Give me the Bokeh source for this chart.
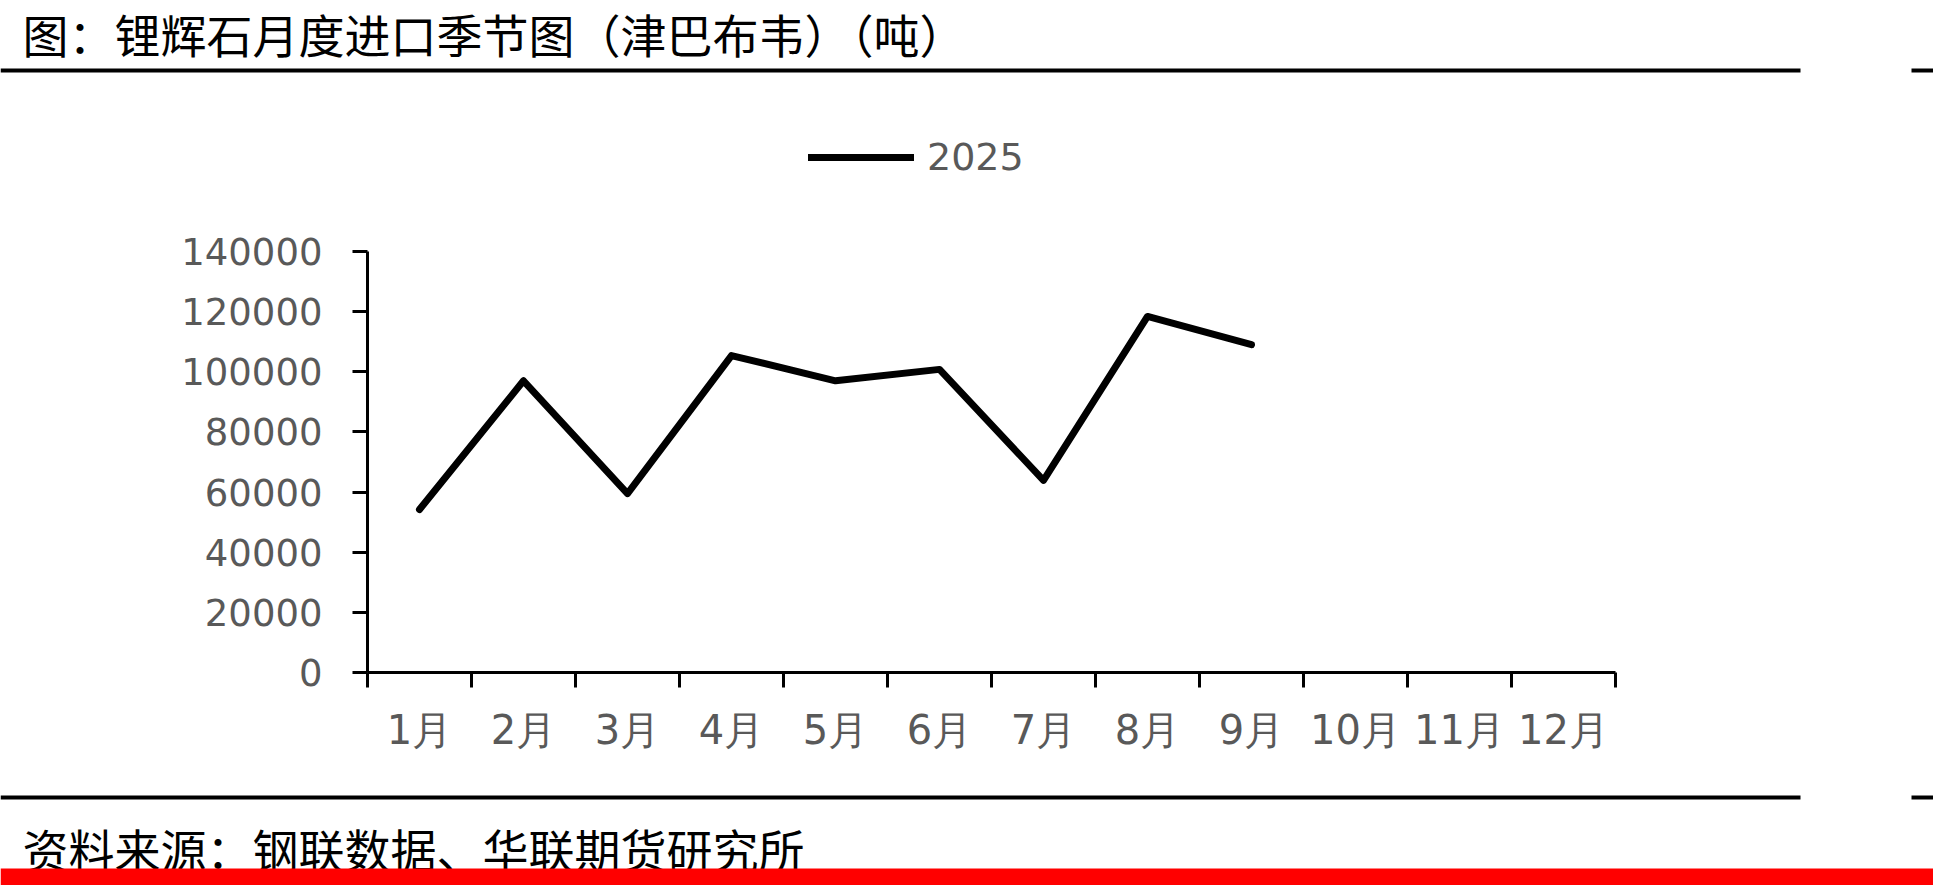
from bokeh.plotting import figure
from bokeh.models import (Range1d, LinearAxis, FixedTicker, Label, BoxAnnotation,
                          Legend, LegendItem, ColumnDataSource, NumeralTickFormatter)
from bokeh.embed import file_html
from bokeh.resources import INLINE

# ---- data ----
title_text = "图：锂辉石月度进口季节图（津巴布韦）（吨）"
source_text = "资料来源：钢联数据、华联期货研究所"
months = ["1月", "2月", "3月", "4月", "5月", "6月", "7月", "8月", "9月", "10月", "11月", "12月"]
series_name = "2025"
values_2025 = [54200, 97000, 59500, 105400, 97000, 100800, 63900, 118400, 109000]
y_ticks = [0, 20000, 40000, 60000, 80000, 100000, 120000, 140000]

W, H = 1933, 885
FL, FR, FB = 367, 1615, 672     # plot frame left/right/bottom (canvas px)
Y_TOP_PX = 251                  # canvas y of the top tick (140000)
FRAME_TOP = 110                 # frame extended upward so the legend sits inside it
Y_MAX = y_ticks[-1]
Y_END = Y_MAX * (FB - FRAME_TOP) / (FB - Y_TOP_PX)
ABS = {"position": "absolute", "top": "0px", "left": "0px"}

# ---- background page layer: title, rules, source, red band (pixel coordinates) ----
bg = figure(width=W, height=H, output_backend="svg", toolbar_location=None,
            x_range=Range1d(0, W), y_range=Range1d(H, 0),
            min_border=0, x_axis_type=None, y_axis_type=None)
bg.outline_line_color = None
bg.xgrid.visible = False
bg.ygrid.visible = False
bg.background_fill_color = "white"
bg.border_fill_color = "white"
bg.styles = ABS


def band(x0, x1, y0, y1, color):
    return BoxAnnotation(left=x0, right=x1, top=y0, bottom=y1,
                         fill_color=color, fill_alpha=1.0, line_color=None)


bg.add_layout(Label(x=22, y=32, text=title_text, text_font="Noto Sans CJK SC",
                    text_font_size="46px", text_color="black",
                    text_baseline="middle", text_align="left"))
bg.add_layout(band(0, 1800, 68, 72, "black"))
bg.add_layout(band(1911, W, 68, 72, "black"))
bg.add_layout(band(0, 1800, 795, 799, "black"))
bg.add_layout(band(1911, W, 795, 799, "black"))
bg.add_layout(Label(x=22, y=847, text=source_text, text_font="Noto Sans CJK SC",
                    text_font_size="46px", text_color="black",
                    text_baseline="middle", text_align="left"))
bg.add_layout(band(0, W, 868, H, "#FF0000"))

# ---- chart layer ----
p = figure(width=W, height=H, output_backend="svg", toolbar_location=None,
           x_range=Range1d(0, len(months)), y_range=Range1d(0, Y_END),
           min_border_left=FL, min_border_right=W - FR,
           min_border_top=FRAME_TOP, min_border_bottom=H - FB,
           x_axis_type=None, y_axis_type=None)
p.outline_line_color = None
p.background_fill_alpha = 0
p.border_fill_alpha = 0
p.xgrid.visible = False
p.ygrid.visible = False
p.styles = ABS

yax = LinearAxis(ticker=FixedTicker(ticks=y_ticks), formatter=NumeralTickFormatter(format="0"),
                 bounds=(0, Y_MAX))
yax.axis_line_width = 3
yax.axis_line_color = "black"
yax.major_tick_line_width = 3
yax.major_tick_line_color = "black"
yax.major_tick_out = 15
yax.major_tick_in = 0
yax.minor_tick_line_color = None
yax.major_label_standoff = 30
yax.major_label_text_font = "DejaVu Sans"
yax.major_label_text_font_size = "37px"
yax.major_label_text_color = "#595959"
p.add_layout(yax, "left")

centers = [i + 0.5 for i in range(len(months))]
bounds = list(range(len(months) + 1))
xax = LinearAxis(ticker=FixedTicker(ticks=centers, minor_ticks=bounds))
xax.major_label_overrides = {c: m for c, m in zip(centers, months)}
xax.axis_line_width = 3
xax.axis_line_color = "black"
xax.major_tick_line_color = None
xax.major_tick_out = 15
xax.major_tick_in = 0
xax.minor_tick_line_color = "black"
xax.minor_tick_line_width = 3
xax.minor_tick_out = 15
xax.minor_tick_in = 0
xax.major_label_standoff = 19
xax.major_label_text_font = "DejaVu Sans"
xax.major_label_text_font_size = "40px"
xax.major_label_text_color = "#595959"
p.add_layout(xax, "below")

src = ColumnDataSource(dict(x=[i + 0.5 for i in range(len(values_2025))], y=values_2025))
r = p.line("x", "y", source=src, line_color="black", line_width=7,
           line_join="round", line_cap="round")

legend = Legend(items=[LegendItem(label=series_name, renderers=[r])],
                location=(441, FB - 179), orientation="horizontal",
                glyph_width=106, glyph_height=20, label_standoff=13,
                padding=0, margin=0, spacing=0,
                background_fill_alpha=0, border_line_color=None,
                label_text_font="DejaVu Sans", label_text_font_size="38px",
                label_text_color="#595959")
p.add_layout(legend, "center")

open("out.html", "w").write(file_html([bg, p], INLINE))
